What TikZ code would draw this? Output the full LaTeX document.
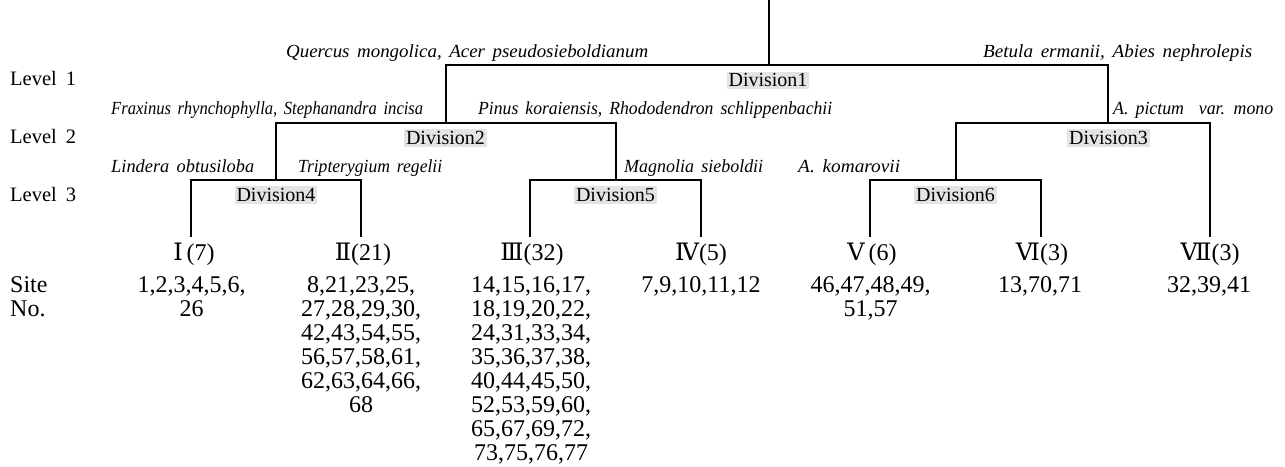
\documentclass[tikz,border=0pt]{standalone}
\usepackage{fontspec}
\usepackage{graphicx}
\setmainfont{Liberation Serif}
\newfontfamily\romfont{DejaVu Serif}
\newfontfamily\spfont[WordSpace=1.6]{Liberation Serif}
\definecolor{divgray}{HTML}{E4E4E4}
\newcommand{\fitto}[2]{\resizebox{#1pt}{\height}{#2}}
\begin{document}
\begin{tikzpicture}[x=1pt,y=-1pt,
  branch/.style={line width=2.4pt, line join=miter},
  species/.style={anchor=base west, inner sep=0pt, font=\spfont\itshape\fontsize{18.5}{20}\selectfont},
  division/.style={anchor=base, fill=divgray, inner xsep=2pt, inner ysep=0pt, text height=15pt, text depth=2.6pt, font=\fontsize{20}{22}\selectfont},
  levellab/.style={anchor=base west, inner sep=0pt, font=\fontsize{20.5}{22}\selectfont},
  grouplab/.style={anchor=base, inner sep=0pt, font=\fontsize{24}{24}\selectfont},
  sitelist/.style={anchor=north, inner sep=0pt, align=center, font=\fontsize{24}{24}\selectfont}]
\useasboundingbox (0,0) rectangle (1285,466);

% junction coordinates
\coordinate (root) at (769,0);
\coordinate (j1) at (769,65);
\coordinate (j2) at (446,123);
\coordinate (j3) at (1108,123);
\coordinate (j4) at (276,180);
\coordinate (j5) at (616,180);
\coordinate (j6) at (956,180);
\coordinate (l1) at (191,237);
\coordinate (l2) at (361,237);
\coordinate (l3) at (530,237);
\coordinate (l4) at (701,237);
\coordinate (l5) at (870,237);
\coordinate (l6) at (1041,237);
\coordinate (l7) at (1210,237);

% branches
\draw[branch] (root) -- (j1);
\draw[branch] (j2) |- (j1) -| (j3);
\draw[branch] (j4) |- (j2) -| (j5);
\draw[branch] (j6) |- (j3) -| (l7);
\draw[branch] (l1) |- (j4) -| (l2);
\draw[branch] (l3) |- (j5) -| (l4);
\draw[branch] (l5) |- (j6) -| (l6);

% division labels
\node[division] (d1) at (768,86.7) {Division1};
\node[division] (d2) at (445.5,144.3) {Division2};
\node[division] (d3) at (1108.5,144.3) {Division3};
\node[division] (d4) at (276,201.3) {Division4};
\node[division] (d5) at (615.5,201.3) {Division5};
\node[division] (d6) at (955.5,201.3) {Division6};

% level labels
\node[levellab] (lv1) at (10,85.7) {Level\hspace{9pt}1};
\node[levellab] (lv2) at (10,143.3) {Level\hspace{9pt}2};
\node[levellab] (lv3) at (10,201) {Level\hspace{9pt}3};

% species labels
\node[species] (s1) at (286,57.5) {\fitto{362}{Quercus mongolica, Acer pseudosieboldianum}};
\node[species] (s2) at (983,57.5) {\fitto{269}{Betula ermanii, Abies nephrolepis}};
\node[species] (s3) at (111,114.5) {\fitto{312}{Fraxinus rhynchophylla, Stephanandra incisa}};
\node[species] (s4) at (478,114.5) {\fitto{354}{Pinus koraiensis, Rhododendron schlippenbachii}};
\node[species] (s5) at (1113,114.5) {\fitto{160}{A. pictum\hspace{8pt} var. mono}};
\node[species] (s6) at (111,172.7) {\fitto{143}{Lindera obtusiloba}};
\node[species] (s7) at (298,172.7) {\fitto{144}{Tripterygium regelii}};
\node[species] (s8) at (624,172.7) {\fitto{139}{Magnolia sieboldii}};
\node[species] (s9) at (798,172.7) {\fitto{102}{A. komarovii}};

% group labels
\node[grouplab] (g1) at (194,260) {{\romfont Ⅰ}\,(7)};
\node[grouplab] (g2) at (363,260) {{\romfont Ⅱ}(21)};
\node[grouplab] (g3) at (532,260) {{\romfont Ⅲ}(32)};
\node[grouplab] (g4) at (701,260) {{\romfont Ⅳ}(5)};
\node[grouplab] (g5) at (872,260) {{\romfont Ⅴ}\,(6)};
\node[grouplab] (g6) at (1042,260) {{\romfont Ⅵ}(3)};
\node[grouplab] (g7) at (1210,260) {{\romfont Ⅶ}(3)};

% site lists
\node[anchor=north west, inner sep=0pt, align=left, font=\fontsize{24}{24}\selectfont] (site) at (10,276.8) {Site\\No.};
\node[sitelist] (n1) at (191.5,276.8) {1,2,3,4,5,6,\\26};
\node[sitelist] (n2) at (361,276.8) {8,21,23,25,\\27,28,29,30,\\42,43,54,55,\\56,57,58,61,\\62,63,64,66,\\68};
\node[sitelist] (n3) at (531,276.8) {14,15,16,17,\\18,19,20,22,\\24,31,33,34,\\35,36,37,38,\\40,44,45,50,\\52,53,59,60,\\65,67,69,72,\\73,75,76,77};
\node[sitelist] (n4) at (701,276.8) {7,9,10,11,12};
\node[sitelist] (n5) at (870.5,276.8) {46,47,48,49,\\51,57};
\node[sitelist] (n6) at (1040,276.8) {13,70,71};
\node[sitelist] (n7) at (1209,276.8) {32,39,41};
\end{tikzpicture}
\end{document}
